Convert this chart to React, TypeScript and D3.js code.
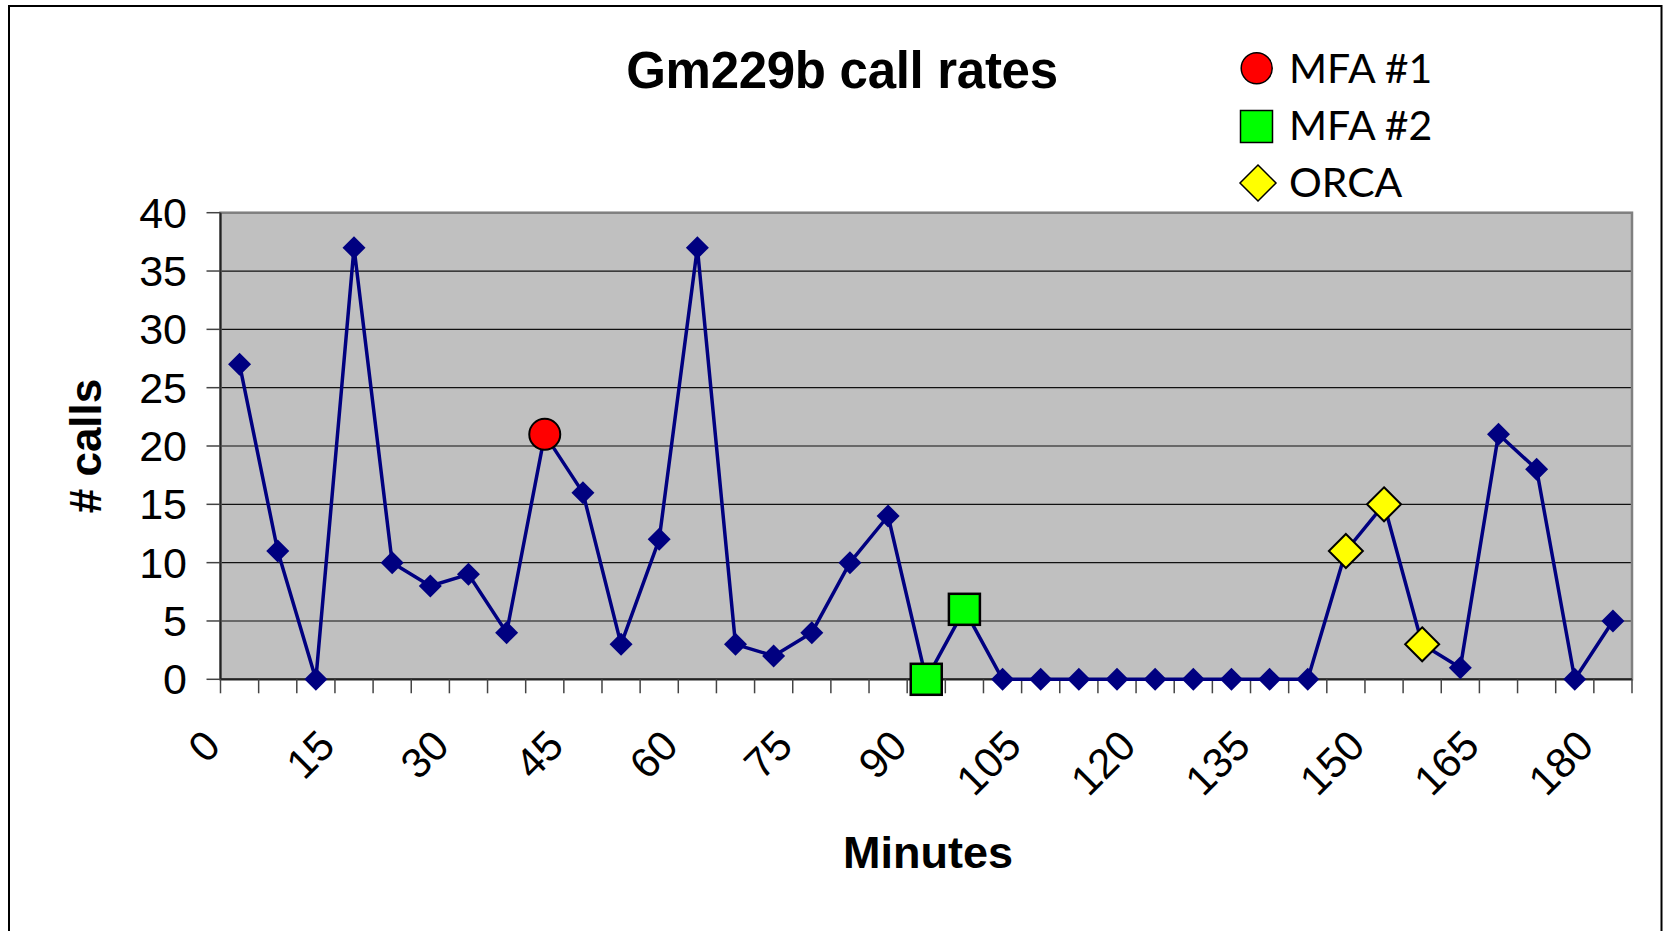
import React from 'react';
import * as d3 from 'd3';

const minutes = [0, 5, 10, 15, 20, 25, 30, 35, 40, 45, 50, 55, 60, 65, 70, 75, 80, 85, 90, 95, 100, 105, 110, 115, 120, 125, 130, 135, 140, 145, 150, 155, 160, 165, 170, 175, 180];
const calls = [27, 11, 0, 37, 10, 8, 9, 4, 21, 16, 3, 12, 37, 3, 2, 4, 10, 14, 0, 6, 0, 0, 0, 0, 0, 0, 0, 0, 0, 11, 15, 3, 1, 21, 18, 0, 5];
const xTickLabels = [0, 15, 30, 45, 60, 75, 90, 105, 120, 135, 150, 165, 180];
const yTicks = [0, 5, 10, 15, 20, 25, 30, 35, 40];
const mfa1Minutes = [40];
const mfa2Minutes = [90, 95];
const orcaMinutes = [145, 150, 155];
const legendItems = ['MFA #1', 'MFA #2', 'ORCA'];

const W = 1665;
const H = 931;
const plot = { left: 220.5, right: 1632, top: 212.7, bottom: 679.3 };

export default function App() {
  const x = d3.scaleBand<number>().domain(minutes).range([plot.left, plot.right]).padding(0);
  const y = d3.scaleLinear().domain([0, 40]).range([plot.bottom, plot.top]);
  const bw = x.bandwidth();
  const cx = (m: number) => (x(m) as number) + bw / 2;
  const valAt = (m: number) => calls[minutes.indexOf(m)];

  const line = d3
    .line<number>()
    .x((_, i) => cx(minutes[i]))
    .y((d) => y(d));

  const diamond = (r: number) => `M0,${-r}L${r},0L0,${r}L${-r},0Z`;

  const boundaries = minutes.map((m) => x(m) as number).concat([plot.right]);
  const arial = 'Arial, "Liberation Sans", sans-serif';
  const legendFont = 'Lato, "Open Sans", sans-serif';

  return (
    <svg width={W} height={H} style={{ position: 'absolute', left: 0, top: 0, background: '#fff' }}>
      <rect x={9} y={6} width={1652.5} height={940} fill="#fff" stroke="#000" strokeWidth={2} />

      {/* plot area */}
      <rect x={plot.left} y={plot.top} width={plot.right - plot.left} height={plot.bottom - plot.top} fill="#C0C0C0" />
      {yTicks.slice(1).map((t) => (
        <line key={t} x1={plot.left} x2={plot.right} y1={y(t)} y2={y(t)} stroke="#111" strokeWidth={1.2} />
      ))}
      <rect x={plot.left} y={plot.top} width={plot.right - plot.left} height={plot.bottom - plot.top} fill="none" stroke="#808080" strokeWidth={2.5} />

      {/* axes */}
      <line x1={plot.left} x2={plot.left} y1={plot.top} y2={plot.bottom} stroke="#222" strokeWidth={2} />
      <line x1={plot.left} x2={plot.right} y1={plot.bottom} y2={plot.bottom} stroke="#222" strokeWidth={2} />
      {yTicks.map((t) => (
        <g key={t}>
          <line x1={plot.left - 14} x2={plot.left} y1={y(t)} y2={y(t)} stroke="#444" strokeWidth={1.5} />
          <text x={187} y={y(t)} dy="0.35em" textAnchor="end" fontFamily={arial} fontSize={43} fill="#000">
            {t}
          </text>
        </g>
      ))}
      {boundaries.map((bx, i) => (
        <line key={i} x1={bx} x2={bx} y1={plot.bottom} y2={plot.bottom + 14} stroke="#444" strokeWidth={1.5} />
      ))}
      {xTickLabels.map((m) => (
        <text
          key={m}
          transform={`translate(${(x(m) as number) + 2},${plot.bottom + 69}) rotate(-45)`}
          textAnchor="end"
          fontFamily={arial}
          fontSize={42}
          fill="#000"
        >
          {m}
        </text>
      ))}

      {/* series */}
      <path d={line(calls) as string} fill="none" stroke="#000080" strokeWidth={3.5} strokeLinejoin="round" />
      {calls.map((v, i) => (
        <path key={i} d={diamond(11.5)} transform={`translate(${cx(minutes[i])},${y(v)})`} fill="#000080" />
      ))}

      {/* event markers */}
      {mfa1Minutes.map((m) => (
        <circle key={m} cx={cx(m)} cy={y(valAt(m))} r={15.5} fill="#FF0000" stroke="#000" strokeWidth={2} />
      ))}
      {mfa2Minutes.map((m) => (
        <rect key={m} x={cx(m) - 15.5} y={y(valAt(m)) - 15.5} width={31} height={31} fill="#00FF00" stroke="#000" strokeWidth={2.5} />
      ))}
      {orcaMinutes.map((m) => (
        <path key={m} d={diamond(17)} transform={`translate(${cx(m)},${y(valAt(m))})`} fill="#FFFF00" stroke="#000" strokeWidth={2} />
      ))}

      {/* titles */}
      <text x={842} y={88} textAnchor="middle" fontFamily={arial} fontWeight="bold" fontSize={51} letterSpacing={-0.3} fill="#000">
        Gm229b call rates
      </text>
      <text x={928} y={868} textAnchor="middle" fontFamily={arial} fontWeight="bold" fontSize={45} fill="#000">
        Minutes
      </text>
      <text transform={`translate(101,${(plot.top + plot.bottom) / 2}) rotate(-90)`} textAnchor="middle" fontFamily={arial} fontWeight="bold" fontSize={44} fill="#000">
        # calls
      </text>

      {/* legend */}
      <g>
        <circle cx={1256.7} cy={68.3} r={15.5} fill="#FF0000" stroke="#000" strokeWidth={1.5} />
        <text x={1289} y={83.3} fontFamily={legendFont} fontSize={41} fill="#000">{legendItems[0]}</text>
        <rect x={1240.5} y={110.5} width={32} height={32} fill="#00FF00" stroke="#000" strokeWidth={1.5} />
        <text x={1289} y={140} fontFamily={legendFont} fontSize={41} fill="#000">{legendItems[1]}</text>
        <path d={diamond(18)} transform="translate(1258,183)" fill="#FFFF00" stroke="#000" strokeWidth={1.5} />
        <text x={1289} y={196.7} fontFamily={legendFont} fontSize={41} fill="#000">{legendItems[2]}</text>
      </g>
    </svg>
  );
}
